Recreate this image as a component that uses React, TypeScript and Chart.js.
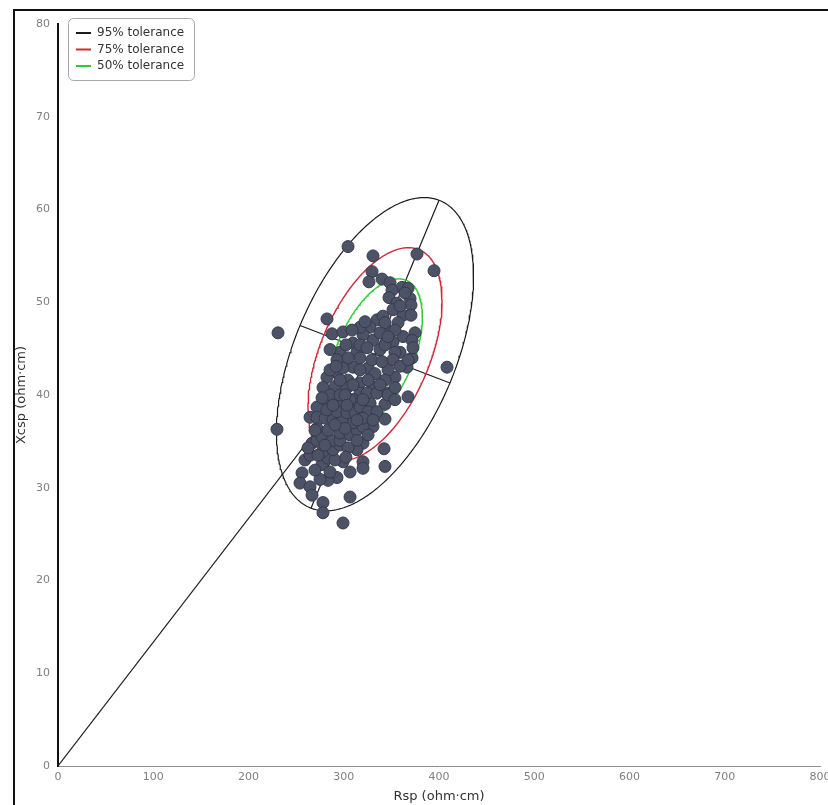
import React, { useEffect, useRef } from "react";
import { Chart, registerables } from "chart.js";

Chart.register(...registerables);

// Scatter data (Rsp, Xcsp)
const rspValues = [
  304.5, 330.7, 376.9, 394.8, 329.7, 326.5, 340.2, 348.6, 361.2, 367.5,
  350.7, 347.5, 369.6, 370.6, 355.9, 362.2, 370.6, 357.0, 282.4, 231.0,
  287.7, 299.2, 334.9, 327.6, 344.4, 374.8, 362.2, 371.7, 351.7, 330.7,
  320.2, 309.7, 296.1, 313.9, 338.1, 359.1, 371.7, 366.4, 408.4, 353.8,
  346.5, 325.5, 309.7, 292.9, 292.9, 304.5, 317.1, 330.7, 282.4, 278.2,
  290.8, 303.4, 317.1, 345.4, 367.5, 282.4, 296.1, 309.7, 327.6, 271.9,
  343.3, 343.3, 330.7, 320.2, 313.9, 342.3, 343.3, 320.2, 320.2, 306.6,
  299.2, 292.9, 283.5, 275.1, 256.2, 254.1, 264.6, 266.7, 278.2, 278.2,
  306.6, 299.2, 259.3, 264.6, 266.7, 277.2, 285.6, 262.5, 283.5, 290.8,
  278.2, 288.7, 296.1, 271.9, 277.2, 287.7, 296.1, 271.9, 283.5, 296.1,
  306.6, 313.9, 309.7, 320.2, 264.6, 271.9, 280.3, 288.7, 298.2, 282.4,
  292.9, 303.4, 311.8, 306.6, 317.1, 325.5, 334.9, 285.6, 296.1, 324.4,
  334.9, 346.5, 302.3, 317.1, 324.4, 343.3, 353.8, 304.5, 317.1, 329.7,
  340.2, 351.7, 359.1, 299.2, 317.1, 332.8, 343.3, 285.6, 296.1, 309.7,
  325.5, 338.1, 353.8, 301.3, 320.2, 353.8, 317.1, 322.3, 341.2, 343.3,
  353.8, 338.1, 346.5, 308.7, 351.7, 364.3, 359.1, 291.9, 285.6, 320.2,
  330.7, 313.9, 304.5, 302.3, 272.9, 269.8, 372.7, 367.5, 277.2, 288.7,
  303.4, 313.9, 301.3, 290.8, 280.3, 325.5, 269.8, 229.9,
];
const xcspValues = [
  56.0, 55.0, 55.2, 53.4, 53.3, 52.2, 52.5, 52.1, 51.6, 51.5,
  51.3, 50.5, 50.4, 49.7, 49.9, 48.6, 48.6, 47.8, 48.2, 46.7,
  46.6, 46.8, 48.1, 47.3, 47.1, 46.7, 46.3, 45.9, 45.7, 45.9,
  46.5, 45.6, 44.6, 44.6, 44.9, 44.6, 44.0, 43.0, 43.0, 41.9,
  42.7, 42.9, 43.0, 43.8, 42.4, 41.6, 41.3, 40.9, 41.9, 40.8,
  40.9, 40.8, 40.2, 40.2, 39.8, 39.1, 39.1, 39.5, 39.1, 38.7,
  39.0, 37.4, 36.6, 34.8, 34.1, 34.2, 32.3, 32.8, 32.1, 31.7,
  32.8, 31.1, 30.8, 30.9, 31.6, 30.5, 30.1, 29.2, 28.4, 27.3,
  29.0, 26.2, 33.0, 33.5, 34.8, 32.5, 31.7, 34.3, 33.2, 33.0,
  33.9, 34.1, 34.6, 35.1, 35.5, 35.1, 35.1, 36.4, 36.2, 35.9,
  35.7, 36.2, 37.0, 36.6, 37.6, 37.6, 37.5, 37.3, 37.1, 38.4,
  38.2, 38.1, 38.1, 39.5, 38.7, 38.2, 38.2, 40.0, 40.0, 40.2,
  40.2, 40.0, 45.4, 45.4, 45.1, 45.4, 44.6, 44.0, 44.0, 43.8,
  43.6, 43.8, 43.1, 42.9, 42.7, 42.3, 41.6, 42.7, 41.6, 41.1,
  41.6, 41.1, 40.8, 40.0, 39.5, 39.5, 47.3, 47.9, 48.5, 47.8,
  47.0, 46.7, 46.3, 47.0, 49.2, 51.0, 49.6, 43.1, 44.9, 37.5,
  37.3, 35.1, 34.3, 33.3, 33.5, 31.9, 45.1, 43.8, 39.7, 38.9,
  38.9, 37.3, 36.4, 36.8, 34.6, 35.7, 36.2, 36.3,
];

// Axis tick labels
const xTickValues = [0, 100, 200, 300, 400, 500, 600, 700, 800];
const yTickValues = [0, 10, 20, 30, 40, 50, 60, 70, 80];

// Tolerance ellipses (95% ellipse: centre and conjugate semi-axes, in data units)
const ellipseCenter = [332.8, 44.4];
const majorSemiAxis = [67.2, 16.6];
const minorSemiAxis = [78.7, -3.1];
const toleranceLabels = ["95% tolerance", "75% tolerance", "50% tolerance"];
const toleranceScales = [1, 0.68, 0.481];
const toleranceColors = ["#1c1c1c", "#d0283a", "#2ecc2e"];

const FONT = "DejaVu Sans";

function ellipsePoints(s: number) {
  const pts: { x: number; y: number }[] = [];
  for (let k = 0; k <= 360; k++) {
    const t = (k * Math.PI) / 180;
    pts.push({
      x: ellipseCenter[0] + s * (majorSemiAxis[0] * Math.cos(t) + minorSemiAxis[0] * Math.sin(t)),
      y: ellipseCenter[1] + s * (majorSemiAxis[1] * Math.cos(t) + minorSemiAxis[1] * Math.sin(t)),
    });
  }
  return pts;
}

export default function App() {
  const ref = useRef<HTMLCanvasElement>(null);

  useEffect(() => {
    const canvas = ref.current;
    if (!canvas) return;
    const points = rspValues.map((x, i) => ({ x, y: xcspValues[i] }));
    const [cx, cy] = ellipseCenter;

    const legendPlugin = {
      id: "toleranceLegend",
      afterDraw(chart: any) {
        const ctx = chart.ctx as CanvasRenderingContext2D;
        ctx.save();
        const bx = 68.5, by = 18.5, bw = 126, bh = 62, r = 5;
        ctx.beginPath();
        ctx.moveTo(bx + r, by);
        ctx.lineTo(bx + bw - r, by);
        ctx.arcTo(bx + bw, by, bx + bw, by + r, r);
        ctx.lineTo(bx + bw, by + bh - r);
        ctx.arcTo(bx + bw, by + bh, bx + bw - r, by + bh, r);
        ctx.lineTo(bx + r, by + bh);
        ctx.arcTo(bx, by + bh, bx, by + bh - r, r);
        ctx.lineTo(bx, by + r);
        ctx.arcTo(bx, by, bx + r, by, r);
        ctx.closePath();
        ctx.fillStyle = "#ffffff";
        ctx.fill();
        ctx.strokeStyle = "#a8a8a8";
        ctx.lineWidth = 1;
        ctx.stroke();
        toleranceLabels.forEach((label, i) => {
          const y = 33 + i * 16.5;
          ctx.beginPath();
          ctx.moveTo(76, y);
          ctx.lineTo(91, y);
          ctx.strokeStyle = toleranceColors[i];
          ctx.lineWidth = 2;
          ctx.stroke();
          ctx.fillStyle = "#333333";
          ctx.font = `12px "${FONT}"`;
          ctx.textBaseline = "middle";
          ctx.textAlign = "left";
          ctx.fillText(label, 97, y);
        });
        ctx.restore();
      },
    };

    const lineDs = (label: string, data: any[], color: string, width: number) => ({
      label,
      data,
      showLine: true,
      pointRadius: 0,
      pointHoverRadius: 0,
      borderColor: color,
      borderWidth: width,
      fill: false,
      tension: 0,
      order: 1,
    });

    const chart = new Chart(canvas, {
      type: "scatter",
      data: {
        datasets: [
          {
            label: "subjects",
            data: points,
            pointRadius: 6,
            pointBackgroundColor: "#4c5366",
            pointBorderColor: "#363b4b",
            pointBorderWidth: 1,
            order: 0,
          } as any,
          ...toleranceLabels.map((label, i) =>
            lineDs(label, ellipsePoints(toleranceScales[i]), toleranceColors[i], i === 0 ? 1.2 : 1.4)
          ),
          lineDs(
            "major axis",
            [
              { x: cx - majorSemiAxis[0], y: cy - majorSemiAxis[1] },
              { x: cx + majorSemiAxis[0], y: cy + majorSemiAxis[1] },
            ],
            "#1c1c1c",
            1.2
          ),
          lineDs(
            "minor axis",
            [
              { x: cx - minorSemiAxis[0], y: cy - minorSemiAxis[1] },
              { x: cx + minorSemiAxis[0], y: cy + minorSemiAxis[1] },
            ],
            "#1c1c1c",
            1.2
          ),
          lineDs("origin line", [{ x: 0, y: 0 }, { x: cx, y: cy }], "#1c1c1c", 1.1),
        ],
      },
      options: {
        responsive: false,
        animation: false,
        devicePixelRatio: 1,
        layout: { padding: { top: 24, right: 8, left: 0, bottom: 0 } },
        plugins: { legend: { display: false }, tooltip: { enabled: false } },
        scales: {
          x: {
            type: "linear",
            min: 0,
            max: 800,
            afterBuildTicks: (s: any) => {
              s.ticks = xTickValues.map((v) => ({ value: v }));
            },
            afterFit: (s: any) => {
              s.height = 39;
              s.paddingLeft = 0;
              s.paddingRight = 0;
            },
            grid: { display: false, drawTicks: false },
            border: { display: true, color: "#8c8c8c", width: 1 },
            ticks: {
              color: "#808080",
              font: { family: FONT, size: 11 },
              padding: 5,
              maxRotation: 0,
              autoSkip: false,
            },
            title: {
              display: true,
              text: "Rsp (ohm·cm)",
              color: "#333333",
              font: { family: FONT, size: 13 },
              padding: { top: 0, bottom: 1 },
            },
          },
          y: {
            type: "linear",
            min: 0,
            max: 80,
            afterBuildTicks: (s: any) => {
              s.ticks = yTickValues.map((v) => ({ value: v }));
            },
            afterFit: (s: any) => {
              s.width = 58;
              s.paddingTop = 0;
              s.paddingBottom = 0;
            },
            grid: { display: false, drawTicks: false },
            border: { display: true, color: "#111111", width: 2 },
            ticks: {
              color: "#808080",
              font: { family: FONT, size: 11 },
              padding: 8,
              autoSkip: false,
            },
            title: {
              display: true,
              text: "Xcsp (ohm·cm)",
              color: "#333333",
              font: { family: FONT, size: 13 },
              padding: { top: 14, bottom: 0 },
            },
          },
        },
      } as any,
      plugins: [legendPlugin],
    });
    return () => chart.destroy();
  }, []);

  return (
    <div
      style={{
        position: "fixed",
        left: 0,
        top: 0,
        width: 828,
        height: 805,
        background: "#ffffff",
        overflow: "hidden",
      }}
    >
      <canvas
        ref={ref}
        width={828}
        height={805}
        style={{ position: "absolute", left: 0, top: 0, width: 828, height: 805 }}
      />
      <div
        style={{
          position: "absolute",
          left: 13,
          top: 9,
          width: 900,
          height: 900,
          borderTop: "2px solid #111",
          borderLeft: "2px solid #111",
          pointerEvents: "none",
        }}
      />
    </div>
  );
}
